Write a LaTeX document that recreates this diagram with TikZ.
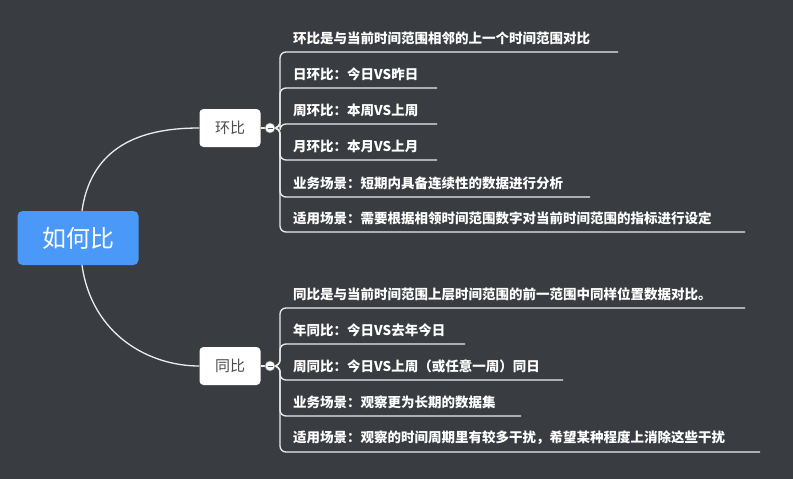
\documentclass[tikz,border=0pt]{standalone}
\usepackage{fontspec}
\setmainfont{Noto Sans CJK SC}
\begin{document}
\begin{tikzpicture}[x=1pt,y=-1pt,
  ln/.style={draw=white!85!gray,line width=1.3pt},
  br/.style={ln,rounded corners=6pt},
  it/.style={anchor=west,text=white,font=\fontsize{13.5}{15}\selectfont\bfseries,inner sep=0pt},
  sub/.style={fill=white,rounded corners=4pt,minimum width=61pt,minimum height=38pt,text=black!70,font=\fontsize{15}{18}\selectfont},
  dot/.style={circle,fill=white,draw=gray,line width=0.5pt,inner sep=0pt,minimum size=10pt}]
\fill[fill={rgb,255:red,57;green,60;blue,65}] (0,0) rectangle (793,479);
\node[fill={rgb,255:red,74;green,152;blue,247},rounded corners=5pt,minimum width=121pt,minimum height=54pt,text=white,font=\fontsize{24}{28}\selectfont] (root) at (78,238) {如何比};
\node[sub] (h) at (230,128) {环比};
\node[sub] (t) at (230,366) {同比};
\draw[ln] (root.north)++(4,0) coordinate (r1) .. controls +(10,-70) and +(-50,0) .. (h.west);
\draw[ln] (root.south)++(4,0) coordinate (r2) .. controls +(10,70) and +(-50,0) .. (t.west);
\foreach \y/\e/\s [count=\i] in {
 52/618/环比是与当前时间范围相邻的上一个时间范围对比,
 88/437/日环比：今日VS昨日,
 124/437/周环比：本周VS上周,
 160/437/月环比：本月VS上月,
 197/590/业务场景：短期内具备连续性的数据进行分析,
 232/745/适用场景：需要根据相领时间范围数字对当前时间范围的指标进行设定}{
 \coordinate (he\i) at (\e,\y);
 \draw[br] (270,128) -- (280,128) -- (280,\y) -- (he\i);
 \node[it] (hi\i) at (293,\y-14) {\s};
}
\foreach \y/\e/\s [count=\i] in {
 308/745/同比是与当前时间范围上层时间范围的前一范围中同样位置数据对比。,
 344/465/年同比：今日VS去年今日,
 380/563/周同比：今日VS上周（或任意一周）同日,
 416/521/业务场景：观察更为长期的数据集,
 452/760/适用场景：观察的时间周期里有较多干扰，希望某种程度上消除这些干扰}{
 \coordinate (te\i) at (\e,\y);
 \draw[br] (270,366) -- (280,366) -- (280,\y) -- (te\i);
 \node[it] (ti\i) at (293,\y-14) {\s};
}
\draw[ln] (h.east) -- (265,128);
\draw[ln] (t.east) -- (265,366);
\node[dot] (hd) at (270,128) {};
\node[dot] (td) at (270,366) {};
\draw[gray!70!black,line width=1pt] ([xshift=-2.5pt]hd.center) -- ([xshift=2.5pt]hd.center);
\draw[gray!70!black,line width=1pt] ([xshift=-2.5pt]td.center) -- ([xshift=2.5pt]td.center);
\end{tikzpicture}
\end{document}
